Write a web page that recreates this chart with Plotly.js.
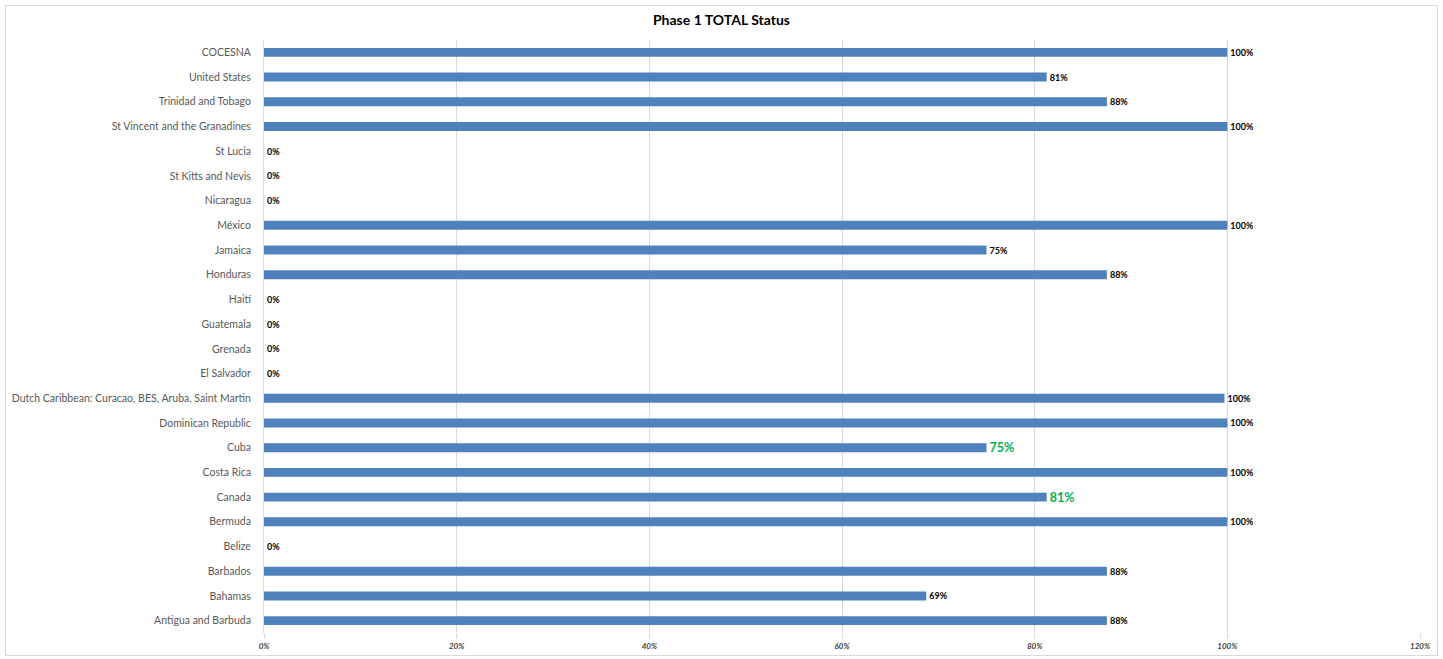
<!DOCTYPE html>
<html>
<head>
<meta charset="utf-8">
<script src="https://cdn.plot.ly/plotly-3.0.1.min.js"></script>
<style>
  html, body { margin: 0; padding: 0; background: #ffffff; }
  #wrap { position: relative; width: 1443px; height: 659px; }
  #chart { width: 1443px; height: 659px; }
  #frame { position: absolute; left: 5px; top: 5px; width: 1431px; height: 649px;
           border: 1px solid #d9d9d9; pointer-events: none; }
</style>
</head>
<body>
<div id="wrap">
  <div id="chart"></div>
  <div id="frame"></div>
</div>
<script>
// Countries / organisations, bottom to top
const countries = [
  "Antigua and Barbuda", "Bahamas", "Barbados", "Belize", "Bermuda", "Canada",
  "Costa Rica", "Cuba", "Dominican Republic",
  "Dutch Caribbean: Curacao, BES, Aruba, Saint Martin",
  "El Salvador", "Grenada", "Guatemala", "Haití", "Honduras", "Jamaica",
  "México", "Nicaragua", "St Kitts and Nevis", "St Lucia",
  "St Vincent and the Granadines", "Trinidad and Tobago", "United States", "COCESNA"
];

// Phase 1 completion (fraction)
const status = [
  0.875, 0.6875, 0.875, 0, 1, 0.8125,
  1, 0.75, 1,
  0.997,
  0, 0, 0, 0, 0.875, 0.75,
  1, 0, 0, 0,
  1, 0.875, 0.8125, 1
];

// Entries whose label is highlighted
const highlighted = ["Canada", "Cuba"];

const labelColors = countries.map(c => highlighted.includes(c) ? "#00b050" : "#000000");
const labelSizes = countries.map(c => highlighted.includes(c) ? 12.5 : 9);

const trace = {
  type: "bar",
  orientation: "h",
  y: countries,
  x: status,
  width: 0.36,
  marker: { color: "#4f81bd" },
  text: status.map(v => Math.round(v * 100) + "%"),
  textposition: "outside",
  constraintext: "none",
  cliponaxis: false,
  textfont: { family: "Lato, 'Open Sans', sans-serif", color: labelColors, size: labelSizes, weight: 700 },
  hoverinfo: "y+x"
};

const layout = {
  width: 1443,
  height: 659,
  margin: { l: 264, r: 23, t: 40, b: 26 },
  paper_bgcolor: "#ffffff",
  plot_bgcolor: "#ffffff",
  showlegend: false,
  title: {
    text: "<b>Phase 1 TOTAL Status</b>",
    font: { family: "Lato, 'Open Sans', sans-serif", size: 14, color: "#000000" },
    x: 0.5, xref: "container", xanchor: "center",
    y: 21, yref: "container", yanchor: "middle"
  },
  xaxis: {
    range: [0, 1.2],
    tickvals: [0, 0.2, 0.4, 0.6, 0.8, 1.0, 1.2],
    ticktext: ["<b><i>0%</i></b>", "<b><i>20%</i></b>", "<b><i>40%</i></b>", "<b><i>60%</i></b>",
               "<b><i>80%</i></b>", "<b><i>100%</i></b>", "<b><i>120%</i></b>"],
    tickfont: { family: "Lato, 'Open Sans', sans-serif", size: 8, color: "#404040" },
    showgrid: true,
    gridcolor: "#d9d9d9",
    gridwidth: 1,
    zeroline: false,
    showline: false,
    ticks: "outside",
    ticklen: 5,
    tickcolor: "#d9d9d9",
    fixedrange: true
  },
  yaxis: {
    type: "category",
    tickfont: { family: "Lato, 'Open Sans', sans-serif", size: 10.5, color: "#595959" },
    showline: true,
    linecolor: "#d9d9d9",
    linewidth: 1,
    ticks: "",
    ticklabelstandoff: 10,
    showgrid: false,
    fixedrange: true
  }
};

Plotly.newPlot("chart", [trace], layout, { displayModeBar: false, staticPlot: true });
</script>
</body>
</html>
